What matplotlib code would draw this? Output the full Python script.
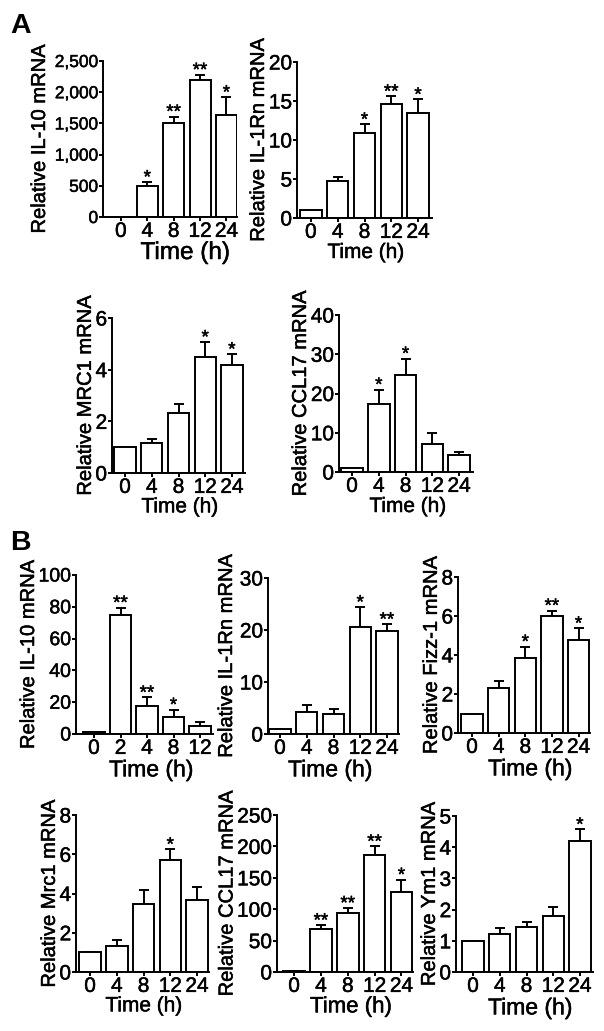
import matplotlib.pyplot as plt
import matplotlib.patheffects as pe
from matplotlib.ticker import FuncFormatter

plt.rcParams['font.family'] = ['Liberation Sans', 'DejaVu Sans']

# ---- data ----
times_a = ['0', '4', '8', '12', '24']
times_b1 = ['0', '2', '4', '8', '12']

a_il10 = [1, 500, 1500, 2200, 1640]
a_il10_err = [0, 60, 110, 80, 280]
a_il10_sig = ['', '*', '**', '**', '*']

a_il1rn = [1, 4.75, 10.85, 14.6, 13.4]
a_il1rn_err = [0, 0.55, 1.15, 1.0, 1.8]
a_il1rn_sig = ['', '', '*', '**', '*']

a_mrc1 = [1.0, 1.17, 2.32, 4.48, 4.18]
a_mrc1_err = [0, 0.15, 0.34, 0.59, 0.42]
a_mrc1_sig = ['', '', '', '*', '*']

a_ccl17 = [1, 17.3, 24.7, 7.2, 4.25]
a_ccl17_err = [0, 3.7, 4.2, 2.8, 0.75]
a_ccl17_sig = ['', '*', '*', '', '']

b_il10 = [1, 75, 17.8, 10.7, 5.2]
b_il10_err = [0, 4.5, 5.2, 4.6, 2.1]
b_il10_sig = ['', '**', '**', '*', '']

b_il1rn = [1, 4.2, 3.8, 20.6, 19.85]
b_il1rn_err = [0, 1.3, 1.0, 3.8, 1.25]
b_il1rn_sig = ['', '', '', '*', '**']

b_fizz1 = [1, 2.3, 3.83, 5.98, 4.77]
b_fizz1_err = [0, 0.39, 0.6, 0.3, 0.6]
b_fizz1_sig = ['', '', '*', '**', '*']

b_mrc1 = [1.02, 1.33, 3.49, 5.7, 3.69]
b_mrc1_err = [0, 0.3, 0.71, 0.55, 0.65]
b_mrc1_sig = ['', '', '', '*', '']

b_ccl17 = [1, 69, 94, 186, 128]
b_ccl17_err = [0, 5.5, 8, 14, 19]
b_ccl17_sig = ['', '**', '**', '**', '*']

b_ym1 = [1.0, 1.23, 1.43, 1.81, 4.2]
b_ym1_err = [0, 0.18, 0.17, 0.26, 0.37]
b_ym1_sig = ['', '', '', '', '*']

W, H = 604, 1031
fig = plt.figure(figsize=(W / 100, H / 100), dpi=100)
heavy = [pe.withStroke(linewidth=0.35, foreground='black')]
label_spots = []


def panel(box, xlim, vals, errs, sig, labels, ymax, ystep, ylabel,
          ylab_x, xlab_pos, xlab_size=15.5, ytick_size=15, comma=False):
    l, r, t, b = box
    ax = fig.add_axes([l / W, 1 - b / H, (r - l) / W, (b - t) / H])
    x = list(range(len(vals)))
    ax.bar(x, vals, width=0.8, color='white', edgecolor='black', linewidth=1.4, zorder=2)
    ax.errorbar(x, vals, yerr=[[0] * len(errs), errs], fmt='none', ecolor='black',
                elinewidth=1.4, capsize=3.8, capthick=1.4, zorder=1)
    for xi, v, e, s in zip(x, vals, errs, sig):
        if s:
            ax.annotate(s, (xi, v + e), xytext=(0, -3.5), textcoords='offset points',
                        ha='center', va='bottom', fontsize=13.5, path_effects=heavy)
    ax.set_xlim(*xlim)
    ax.set_ylim(0, ymax)
    ax.set_yticks([ystep * i for i in range(int(round(ymax / ystep)) + 1)])
    if comma:
        ax.yaxis.set_major_formatter(FuncFormatter(lambda v, p: f'{int(v):,}'))
    ax.set_xticks(x)
    ax.set_xticklabels(labels)
    for side in ('top', 'right'):
        ax.spines[side].set_visible(False)
    for side in ('left', 'bottom'):
        ax.spines[side].set_linewidth(1.4)
    ax.tick_params(width=1.4, length=3, pad=0.5)
    ax.tick_params(axis='x', labelsize=15)
    ax.tick_params(axis='y', labelsize=ytick_size)
    ax.set_xlabel('Time (h)', fontsize=xlab_size)
    ax.set_ylabel(ylabel, fontsize=14.5)
    for txt in ax.get_xticklabels() + ax.get_yticklabels() + [ax.xaxis.label, ax.yaxis.label]:
        txt.set_path_effects(heavy)
    label_spots.append((ax, ylab_x, xlab_pos))
    return ax


panel((103, 237, 61, 217), (-0.68, 4.40), a_il10, a_il10_err, a_il10_sig, times_a,
      2500, 500, 'Relative IL-10 mRNA', 49, (185, 242), xlab_size=17.5, ytick_size=12.5,
      comma=True)
panel((297, 432, 62, 218), (-0.52, 4.52), a_il1rn, a_il1rn_err, a_il1rn_sig, times_a,
      20, 5, 'Relative IL-1Rn mRNA', 268, (366, 243), xlab_size=15)
panel((112, 245, 318, 473), (-0.49, 4.49), a_mrc1, a_mrc1_err, a_mrc1_sig, times_a,
      6, 2, 'Relative MRC1 mRNA', 96, (180, 496), xlab_size=15)
panel((339, 473, 315, 472), (-0.49, 4.52), a_ccl17, a_ccl17_err, a_ccl17_sig, times_a,
      40, 10, 'Relative CCL17 mRNA', 310, (408, 497), xlab_size=15)

panel((76, 213, 575, 734), (-0.68, 4.49), b_il10, b_il10_err, b_il10_sig, times_b1,
      100, 20, 'Relative IL-10 mRNA', 44, (151, 750), xlab_size=16.5, ytick_size=14)
panel((268, 399, 578, 734), (-0.45, 4.45), b_il1rn, b_il1rn_err, b_il1rn_sig, times_a,
      30, 10, 'Relative IL-1Rn mRNA', 236, (330, 757), xlab_size=16.5)
panel((458, 590, 577, 733), (-0.53, 4.43), b_fizz1, b_fizz1_err, b_fizz1_sig, times_a,
      8, 2, 'Relative Fizz-1 mRNA', 441, (530, 756), xlab_size=16.5)
panel((76, 209, 815, 972), (-0.53, 4.45), b_mrc1, b_mrc1_err, b_mrc1_sig, times_a,
      8, 2, 'Relative Mrc1 mRNA', 64, (144, 991), xlab_size=15)
panel((277, 413, 815, 972), (-0.64, 4.43), b_ccl17, b_ccl17_err, b_ccl17_sig, times_a,
      250, 50, 'Relative CCL17 mRNA', 241, (351, 993), xlab_size=16)
panel((456, 593, 816, 972), (-0.64, 4.49), b_ym1, b_ym1_err, b_ym1_sig, times_a,
      5, 1, 'Relative Ym1 mRNA', 442, (530, 994), xlab_size=16.5)

fig.text(10 / W, 1 - 33 / H, 'A', fontsize=20.5, fontweight='bold', va='baseline')
fig.text(10 / W, 1 - 550 / H, 'B', fontsize=20.5, fontweight='bold', va='baseline')

# place axis labels where the reference has them, but never on top of tick labels
fig.canvas.draw()
rend = fig.canvas.get_renderer()
for ax, ylab_x, (xc, xtop) in label_spots:
    ylefts = [t.get_window_extent(rend).x0 for t in ax.get_yticklabels() if t.get_text()]
    yx = min(ylab_x, min(ylefts) - 0.5)
    ax.yaxis.set_label_coords(yx / W, 0.5 * (ax.get_position().y0 + ax.get_position().y1),
                              transform=fig.transFigure)
    xbottoms = [H - t.get_window_extent(rend).y0 for t in ax.get_xticklabels() if t.get_text()]
    xt = max(xtop, max(xbottoms) + 0.5)
    ax.xaxis.set_label_coords(xc / W, 1 - xt / H, transform=fig.transFigure)

fig.savefig('out.png', dpi=100)
